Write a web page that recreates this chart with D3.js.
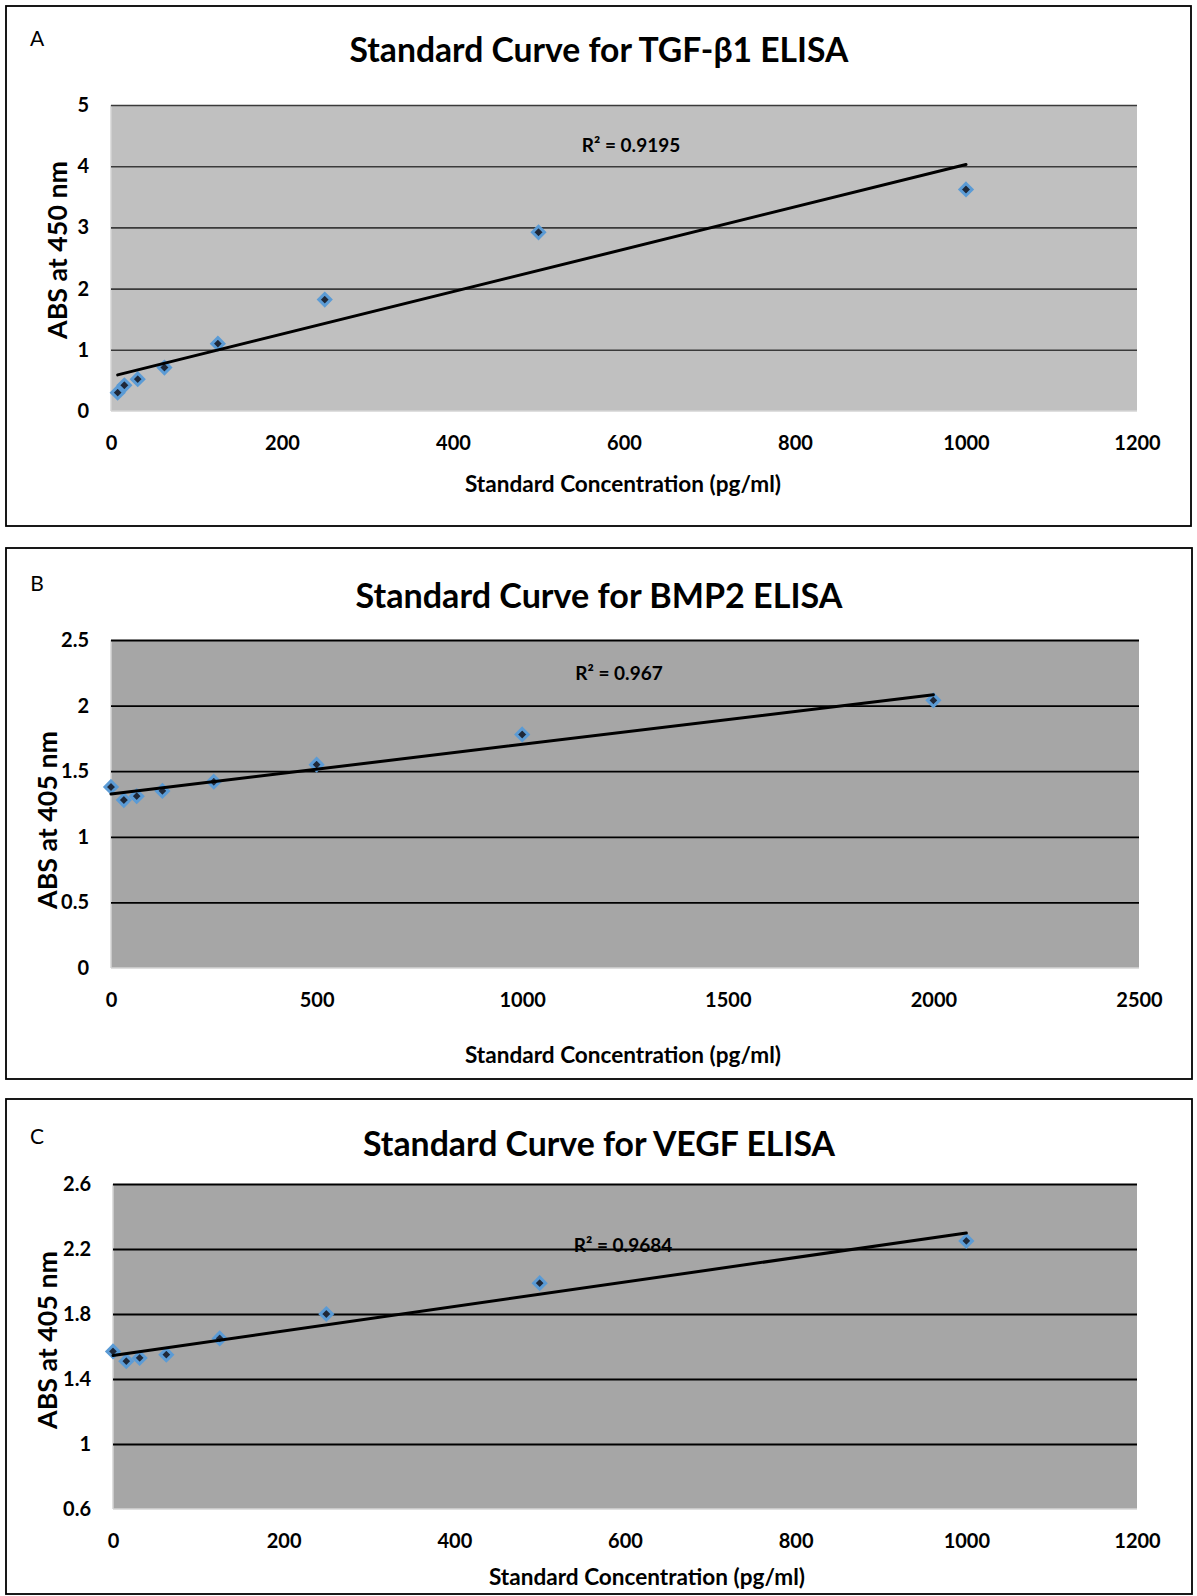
<!DOCTYPE html>
<html>
<head>
<meta charset="utf-8">
<script src="https://cdn.jsdelivr.net/npm/d3@7"></script>
<style>
  html, body { margin: 0; padding: 0; background: #ffffff; }
  svg { display: block; }
  text { font-family: Lato, "Open Sans", "DejaVu Sans", sans-serif; fill: #000; }
</style>
</head>
<body>
<svg id="chart" width="1197" height="1596"></svg>
<script>
// ---------------- DATA ----------------
const panelLetters = ["A", "B", "C"];
const chartTitles = [
  "Standard Curve for TGF-\u03B21 ELISA",
  "Standard Curve for BMP2 ELISA",
  "Standard Curve for VEGF ELISA"
];
const yAxisTitles = ["ABS at 450 nm", "ABS at 405 nm", "ABS at 405 nm"];
const xAxisTitle = "Standard Concentration (pg/ml)";
const r2Labels = ["R\u00B2 = 0.9195", "R\u00B2 = 0.967", "R\u00B2 = 0.9684"];

// Panel A: TGF-b1
const concA = [7.8, 15.6, 31.25, 62.5, 125, 250, 500, 1000];
const absA  = [0.30, 0.42, 0.52, 0.71, 1.10, 1.82, 2.92, 3.62];
const xTicksA = [0, 200, 400, 600, 800, 1000, 1200];
const yTicksA = [0, 1, 2, 3, 4, 5];

// Panel B: BMP2
const concB = [0, 31.25, 62.5, 125, 250, 500, 1000, 2000];
const absB  = [1.38, 1.28, 1.31, 1.35, 1.42, 1.55, 1.78, 2.04];
const xTicksB = [0, 500, 1000, 1500, 2000, 2500];
const yTicksB = [0, 0.5, 1, 1.5, 2, 2.5];

// Panel C: VEGF
const concC = [0, 15.6, 31.25, 62.5, 125, 250, 500, 1000];
const absC  = [1.57, 1.51, 1.53, 1.55, 1.65, 1.80, 1.99, 2.25];
const xTicksC = [0, 200, 400, 600, 800, 1000, 1200];
const yTicksC = [0.6, 1, 1.4, 1.8, 2.2, 2.6];

// ---------------- LAYOUT ----------------
const panels = [
  { x: concA, y: absA, xt: xTicksA, yt: yTicksA,
    border: { x: 6, y: 6, w: 1185, h: 520 },
    plot: { l: 111, t: 105, r: 1137, b: 411 },
    bg: "#c0c0c0", grid: "#3a3a3a", gridW: 1.6,
    titleY: 49, letterY: 37, xTitle: { x: 623, y: 483 }, yTitle: { x: 57, y: 250 },
    r2: { x: 631, y: 144 } },
  { x: concB, y: absB, xt: xTicksB, yt: yTicksB,
    border: { x: 6, y: 548, w: 1186, h: 531 },
    plot: { l: 111, t: 640, r: 1139, b: 968 },
    bg: "#a6a6a6", grid: "#000000", gridW: 1.8,
    titleY: 594, letterY: 582, xTitle: { x: 623, y: 1054 }, yTitle: { x: 47, y: 820 },
    r2: { x: 619, y: 672 } },
  { x: concC, y: absC, xt: xTicksC, yt: yTicksC,
    border: { x: 6, y: 1099, w: 1186, h: 495 },
    plot: { l: 113, t: 1184, r: 1137, b: 1509 },
    bg: "#a6a6a6", grid: "#000000", gridW: 1.8,
    titleY: 1143, letterY: 1135, xTitle: { x: 647, y: 1576 }, yTitle: { x: 47, y: 1340 },
    r2: { x: 623, y: 1244 } }
];

const svg = d3.select("#chart");

function fitWidth(sel, target) {
  const node = sel.node();
  const w = node.getComputedTextLength();
  const fs = parseFloat(sel.attr("font-size"));
  if (w > 0) sel.attr("font-size", (fs * target / w).toFixed(2));
}

function linReg(xs, ys) {
  const n = xs.length;
  const mx = d3.mean(xs), my = d3.mean(ys);
  let sxy = 0, sxx = 0;
  for (let i = 0; i < n; i++) { sxy += (xs[i] - mx) * (ys[i] - my); sxx += (xs[i] - mx) ** 2; }
  const slope = sxy / sxx;
  return { slope, intercept: my - slope * mx };
}

const titleWidths = [499, 487, 472];

panels.forEach((p, i) => {
  const g = svg.append("g");
  const x = d3.scaleLinear().domain(d3.extent(p.xt)).range([p.plot.l, p.plot.r]);
  const y = d3.scaleLinear().domain(d3.extent(p.yt)).range([p.plot.b, p.plot.t]);

  g.append("rect")
    .attr("x", p.border.x).attr("y", p.border.y)
    .attr("width", p.border.w).attr("height", p.border.h)
    .attr("fill", "#fff").attr("stroke", "#000").attr("stroke-width", 1.8);

  g.append("rect")
    .attr("x", p.plot.l).attr("y", p.plot.t)
    .attr("width", p.plot.r - p.plot.l).attr("height", p.plot.b - p.plot.t)
    .attr("fill", p.bg);

  g.append("line").attr("x1", p.plot.l).attr("x2", p.plot.l)
    .attr("y1", p.plot.t).attr("y2", p.plot.b)
    .attr("stroke", "#d4d4d4").attr("stroke-width", 1.5);
  g.append("line").attr("x1", p.plot.l).attr("x2", p.plot.r)
    .attr("y1", p.plot.b).attr("y2", p.plot.b)
    .attr("stroke", "#d4d4d4").attr("stroke-width", 1.5);

  const yGrid = d3.axisLeft(y).tickValues(p.yt.slice(1)).tickSize(-(p.plot.r - p.plot.l)).tickFormat("");
  const gg = g.append("g").attr("transform", `translate(${p.plot.l},0)`).call(yGrid);
  gg.select(".domain").remove();
  gg.selectAll(".tick line").attr("stroke", p.grid).attr("stroke-width", p.gridW);

  const yAx = d3.axisLeft(y).tickValues(p.yt).tickSize(0).tickPadding(22)
    .tickFormat(d => String(d));
  const ya = g.append("g").attr("transform", `translate(${p.plot.l},0)`).call(yAx);
  ya.select(".domain").remove();
  ya.selectAll(".tick text").attr("font-size", 20).attr("font-weight", "bold")
    .attr("font-family", "Lato, 'Open Sans', sans-serif").attr("fill", "#000");

  const xAx = d3.axisBottom(x).tickValues(p.xt).tickSize(0).tickPadding(0)
    .tickFormat(d => String(d));
  const xa = g.append("g").attr("transform", `translate(0,${p.plot.b + 32})`).call(xAx);
  xa.select(".domain").remove();
  xa.selectAll(".tick text").attr("font-size", 20).attr("font-weight", "bold")
    .attr("font-family", "Lato, 'Open Sans', sans-serif").attr("fill", "#000")
    .attr("dy", "0.35em").attr("y", 0);

  const pts = p.x.map((v, k) => [v, p.y[k]]);
  const r = 6;
  g.append("g").selectAll("path").data(pts).join("path")
    .attr("d", `M0,${-r}L${r},0L0,${r}L${-r},0Z`)
    .attr("transform", d => `translate(${x(d[0])},${y(d[1])})`)
    .attr("fill", "#1f2838").attr("stroke", "#5b9bd5").attr("stroke-width", 3)
    .attr("stroke-linejoin", "miter");

  const fit = linReg(p.x, p.y);
  const x0 = d3.min(p.x), x1 = d3.max(p.x);
  g.append("line")
    .attr("x1", x(x0)).attr("y1", y(fit.intercept + fit.slope * x0))
    .attr("x2", x(x1)).attr("y2", y(fit.intercept + fit.slope * x1))
    .attr("stroke", "#000").attr("stroke-width", 3).attr("stroke-linecap", "round");

  g.append("text").attr("x", p.r2.x).attr("y", p.r2.y)
    .attr("text-anchor", "middle").attr("dominant-baseline", "central")
    .attr("font-size", 19).attr("font-weight", "bold").text(r2Labels[i]);

  g.append("text").attr("x", 37).attr("y", p.letterY)
    .attr("text-anchor", "middle").attr("dominant-baseline", "central")
    .attr("font-size", 21).text(panelLetters[i]);

  const t = g.append("text").attr("x", 599).attr("y", p.titleY)
    .attr("text-anchor", "middle").attr("dominant-baseline", "central")
    .attr("font-size", 32).attr("font-weight", "bold").text(chartTitles[i]);
  fitWidth(t, titleWidths[i]);

  const xt = g.append("text").attr("x", p.xTitle.x).attr("y", p.xTitle.y)
    .attr("text-anchor", "middle").attr("dominant-baseline", "central")
    .attr("font-size", 19).attr("font-weight", "bold").text(xAxisTitle);
  fitWidth(xt, 316);

  const yt = g.append("text")
    .attr("transform", `translate(${p.yTitle.x},${p.yTitle.y}) rotate(-90)`)
    .attr("text-anchor", "middle").attr("dominant-baseline", "central")
    .attr("font-size", 19).attr("font-weight", "bold").text(yAxisTitles[i]);
  fitWidth(yt, 178);
});
</script>
</body>
</html>
